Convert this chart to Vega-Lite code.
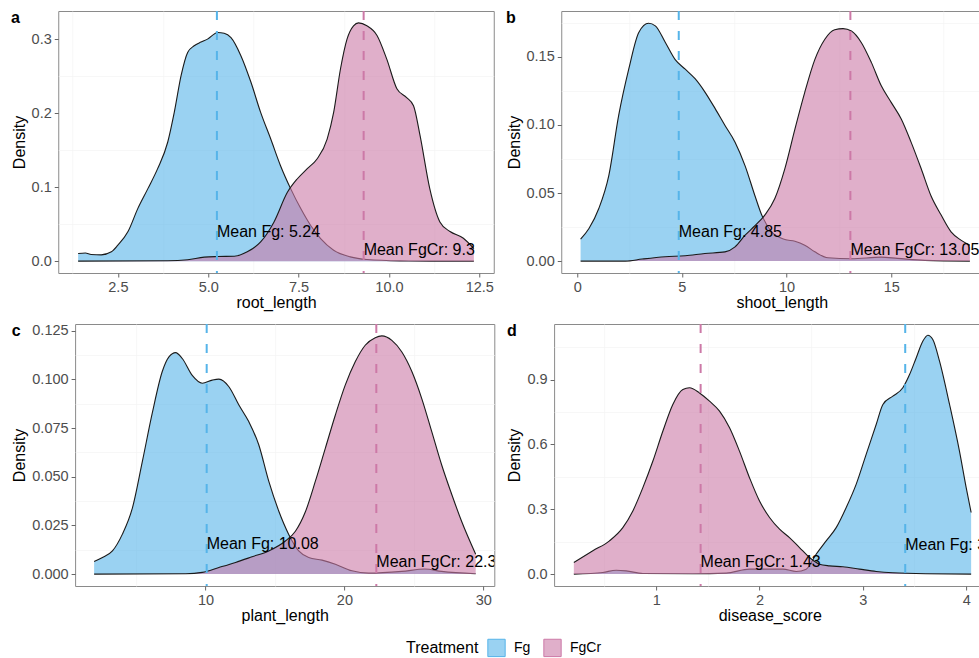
{
  "$schema": "https://vega.github.io/schema/vega-lite/v6.json",
  "background": "white",
  "padding": {"left": 10, "top": 9, "right": 0, "bottom": 0},
  "datasets": {
    "a": [
      {"Treatment": "Fg", "x": 1.40, "density": 0.0103},
      {"Treatment": "Fg", "x": 1.60, "density": 0.0110},
      {"Treatment": "Fg", "x": 1.76, "density": 0.0090},
      {"Treatment": "Fg", "x": 2.04, "density": 0.0085},
      {"Treatment": "Fg", "x": 2.32, "density": 0.0126},
      {"Treatment": "Fg", "x": 2.50, "density": 0.0216},
      {"Treatment": "Fg", "x": 2.78, "density": 0.040},
      {"Treatment": "Fg", "x": 3.05, "density": 0.071},
      {"Treatment": "Fg", "x": 3.33, "density": 0.098},
      {"Treatment": "Fg", "x": 3.60, "density": 0.125},
      {"Treatment": "Fg", "x": 3.88, "density": 0.161},
      {"Treatment": "Fg", "x": 4.06, "density": 0.201},
      {"Treatment": "Fg", "x": 4.25, "density": 0.251},
      {"Treatment": "Fg", "x": 4.43, "density": 0.282},
      {"Treatment": "Fg", "x": 4.61, "density": 0.291},
      {"Treatment": "Fg", "x": 4.80, "density": 0.296},
      {"Treatment": "Fg", "x": 4.98, "density": 0.300},
      {"Treatment": "Fg", "x": 5.26, "density": 0.309},
      {"Treatment": "Fg", "x": 5.44, "density": 0.308},
      {"Treatment": "Fg", "x": 5.63, "density": 0.302},
      {"Treatment": "Fg", "x": 5.90, "density": 0.278},
      {"Treatment": "Fg", "x": 6.18, "density": 0.242},
      {"Treatment": "Fg", "x": 6.45, "density": 0.201},
      {"Treatment": "Fg", "x": 6.73, "density": 0.165},
      {"Treatment": "Fg", "x": 7.00, "density": 0.129},
      {"Treatment": "Fg", "x": 7.28, "density": 0.098},
      {"Treatment": "Fg", "x": 7.56, "density": 0.071},
      {"Treatment": "Fg", "x": 7.83, "density": 0.0485},
      {"Treatment": "Fg", "x": 8.11, "density": 0.0305},
      {"Treatment": "Fg", "x": 8.47, "density": 0.0148},
      {"Treatment": "Fg", "x": 8.93, "density": 0.0058},
      {"Treatment": "Fg", "x": 9.39, "density": 0.0022},
      {"Treatment": "Fg", "x": 10.31, "density": 0.0004},
      {"Treatment": "Fg", "x": 11.20, "density": 0.0001},
      {"Treatment": "Fg", "x": 12.35, "density": 0.0},
      {"Treatment": "FgCr", "x": 1.40, "density": 0.0},
      {"Treatment": "FgCr", "x": 3.88, "density": 0.0005},
      {"Treatment": "FgCr", "x": 4.43, "density": 0.002},
      {"Treatment": "FgCr", "x": 4.89, "density": 0.0054},
      {"Treatment": "FgCr", "x": 5.26, "density": 0.0063},
      {"Treatment": "FgCr", "x": 5.72, "density": 0.0067},
      {"Treatment": "FgCr", "x": 6.08, "density": 0.0126},
      {"Treatment": "FgCr", "x": 6.45, "density": 0.026},
      {"Treatment": "FgCr", "x": 6.82, "density": 0.053},
      {"Treatment": "FgCr", "x": 7.19, "density": 0.093},
      {"Treatment": "FgCr", "x": 7.46, "density": 0.111},
      {"Treatment": "FgCr", "x": 7.74, "density": 0.125},
      {"Treatment": "FgCr", "x": 8.01, "density": 0.138},
      {"Treatment": "FgCr", "x": 8.29, "density": 0.165},
      {"Treatment": "FgCr", "x": 8.47, "density": 0.201},
      {"Treatment": "FgCr", "x": 8.66, "density": 0.260},
      {"Treatment": "FgCr", "x": 8.84, "density": 0.300},
      {"Treatment": "FgCr", "x": 9.02, "density": 0.318},
      {"Treatment": "FgCr", "x": 9.16, "density": 0.322},
      {"Treatment": "FgCr", "x": 9.39, "density": 0.318},
      {"Treatment": "FgCr", "x": 9.67, "density": 0.305},
      {"Treatment": "FgCr", "x": 9.94, "density": 0.273},
      {"Treatment": "FgCr", "x": 10.22, "density": 0.233},
      {"Treatment": "FgCr", "x": 10.49, "density": 0.221},
      {"Treatment": "FgCr", "x": 10.68, "density": 0.210},
      {"Treatment": "FgCr", "x": 10.86, "density": 0.170},
      {"Treatment": "FgCr", "x": 11.13, "density": 0.098},
      {"Treatment": "FgCr", "x": 11.41, "density": 0.053},
      {"Treatment": "FgCr", "x": 11.69, "density": 0.040},
      {"Treatment": "FgCr", "x": 12.06, "density": 0.031},
      {"Treatment": "FgCr", "x": 12.35, "density": 0.017}
    ],
    "b": [
      {"Treatment": "Fg", "x": 0.16, "density": 0.0161},
      {"Treatment": "Fg", "x": 0.56, "density": 0.0239},
      {"Treatment": "Fg", "x": 1.03, "density": 0.0386},
      {"Treatment": "Fg", "x": 1.51, "density": 0.063},
      {"Treatment": "Fg", "x": 1.98, "density": 0.107},
      {"Treatment": "Fg", "x": 2.46, "density": 0.141},
      {"Treatment": "Fg", "x": 2.94, "density": 0.168},
      {"Treatment": "Fg", "x": 3.41, "density": 0.1747},
      {"Treatment": "Fg", "x": 3.73, "density": 0.1728},
      {"Treatment": "Fg", "x": 4.21, "density": 0.1606},
      {"Treatment": "Fg", "x": 4.68, "density": 0.148},
      {"Treatment": "Fg", "x": 5.16, "density": 0.141},
      {"Treatment": "Fg", "x": 5.63, "density": 0.134},
      {"Treatment": "Fg", "x": 6.11, "density": 0.124},
      {"Treatment": "Fg", "x": 6.59, "density": 0.112},
      {"Treatment": "Fg", "x": 7.06, "density": 0.0996},
      {"Treatment": "Fg", "x": 7.54, "density": 0.0874},
      {"Treatment": "Fg", "x": 8.02, "density": 0.070},
      {"Treatment": "Fg", "x": 8.49, "density": 0.048},
      {"Treatment": "Fg", "x": 8.81, "density": 0.034},
      {"Treatment": "Fg", "x": 9.29, "density": 0.0215},
      {"Treatment": "Fg", "x": 9.92, "density": 0.0159},
      {"Treatment": "Fg", "x": 10.40, "density": 0.0146},
      {"Treatment": "Fg", "x": 10.87, "density": 0.0117},
      {"Treatment": "Fg", "x": 11.35, "density": 0.0068},
      {"Treatment": "Fg", "x": 11.98, "density": 0.0024},
      {"Treatment": "Fg", "x": 13.10, "density": 0.0017},
      {"Treatment": "Fg", "x": 14.52, "density": 0.0029},
      {"Treatment": "Fg", "x": 15.30, "density": 0.0020},
      {"Treatment": "Fg", "x": 16.60, "density": 0.0005},
      {"Treatment": "Fg", "x": 18.76, "density": 0.0},
      {"Treatment": "FgCr", "x": 0.16, "density": 0.0},
      {"Treatment": "FgCr", "x": 2.30, "density": 0.0},
      {"Treatment": "FgCr", "x": 3.10, "density": 0.0015},
      {"Treatment": "FgCr", "x": 4.20, "density": 0.0032},
      {"Treatment": "FgCr", "x": 5.16, "density": 0.0039},
      {"Treatment": "FgCr", "x": 6.10, "density": 0.0056},
      {"Treatment": "FgCr", "x": 7.06, "density": 0.0068},
      {"Treatment": "FgCr", "x": 7.54, "density": 0.0105},
      {"Treatment": "FgCr", "x": 8.02, "density": 0.019},
      {"Treatment": "FgCr", "x": 8.49, "density": 0.026},
      {"Treatment": "FgCr", "x": 8.97, "density": 0.034},
      {"Treatment": "FgCr", "x": 9.44, "density": 0.046},
      {"Treatment": "FgCr", "x": 9.92, "density": 0.068},
      {"Treatment": "FgCr", "x": 10.40, "density": 0.097},
      {"Treatment": "FgCr", "x": 10.87, "density": 0.124},
      {"Treatment": "FgCr", "x": 11.35, "density": 0.148},
      {"Treatment": "FgCr", "x": 11.83, "density": 0.163},
      {"Treatment": "FgCr", "x": 12.30, "density": 0.170},
      {"Treatment": "FgCr", "x": 12.70, "density": 0.1708},
      {"Treatment": "FgCr", "x": 13.10, "density": 0.169},
      {"Treatment": "FgCr", "x": 13.57, "density": 0.1606},
      {"Treatment": "FgCr", "x": 14.05, "density": 0.146},
      {"Treatment": "FgCr", "x": 14.52, "density": 0.129},
      {"Treatment": "FgCr", "x": 15.00, "density": 0.1166},
      {"Treatment": "FgCr", "x": 15.48, "density": 0.1044},
      {"Treatment": "FgCr", "x": 15.95, "density": 0.0874},
      {"Treatment": "FgCr", "x": 16.43, "density": 0.068},
      {"Treatment": "FgCr", "x": 16.90, "density": 0.048},
      {"Treatment": "FgCr", "x": 17.38, "density": 0.034},
      {"Treatment": "FgCr", "x": 17.86, "density": 0.0215},
      {"Treatment": "FgCr", "x": 18.33, "density": 0.0154},
      {"Treatment": "FgCr", "x": 18.76, "density": 0.0117}
    ],
    "c": [
      {"Treatment": "Fg", "x": 1.97, "density": 0.0065},
      {"Treatment": "Fg", "x": 2.57, "density": 0.0085},
      {"Treatment": "Fg", "x": 3.29, "density": 0.0119},
      {"Treatment": "Fg", "x": 4.00, "density": 0.0204},
      {"Treatment": "Fg", "x": 4.73, "density": 0.034},
      {"Treatment": "Fg", "x": 5.45, "density": 0.058},
      {"Treatment": "Fg", "x": 6.17, "density": 0.083},
      {"Treatment": "Fg", "x": 6.88, "density": 0.104},
      {"Treatment": "Fg", "x": 7.36, "density": 0.1115},
      {"Treatment": "Fg", "x": 7.84, "density": 0.1137},
      {"Treatment": "Fg", "x": 8.32, "density": 0.1107},
      {"Treatment": "Fg", "x": 9.04, "density": 0.102},
      {"Treatment": "Fg", "x": 9.76, "density": 0.098},
      {"Treatment": "Fg", "x": 10.48, "density": 0.0996},
      {"Treatment": "Fg", "x": 10.96, "density": 0.1001},
      {"Treatment": "Fg", "x": 11.68, "density": 0.0962},
      {"Treatment": "Fg", "x": 12.40, "density": 0.0868},
      {"Treatment": "Fg", "x": 13.11, "density": 0.0783},
      {"Treatment": "Fg", "x": 13.83, "density": 0.0664},
      {"Treatment": "Fg", "x": 14.55, "density": 0.0477},
      {"Treatment": "Fg", "x": 15.27, "density": 0.0324},
      {"Treatment": "Fg", "x": 15.99, "density": 0.0204},
      {"Treatment": "Fg", "x": 16.71, "density": 0.0119},
      {"Treatment": "Fg", "x": 17.43, "density": 0.0085},
      {"Treatment": "Fg", "x": 18.39, "density": 0.0072},
      {"Treatment": "Fg", "x": 19.35, "density": 0.0051},
      {"Treatment": "Fg", "x": 20.54, "density": 0.0017},
      {"Treatment": "Fg", "x": 21.74, "density": 0.0005},
      {"Treatment": "Fg", "x": 24.14, "density": 0.0014},
      {"Treatment": "Fg", "x": 25.80, "density": 0.0026},
      {"Treatment": "Fg", "x": 27.00, "density": 0.0014},
      {"Treatment": "Fg", "x": 29.46, "density": 0.0002},
      {"Treatment": "FgCr", "x": 1.97, "density": 0.0},
      {"Treatment": "FgCr", "x": 8.56, "density": 0.0002},
      {"Treatment": "FgCr", "x": 9.76, "density": 0.0009},
      {"Treatment": "FgCr", "x": 10.96, "density": 0.0034},
      {"Treatment": "FgCr", "x": 12.16, "density": 0.006},
      {"Treatment": "FgCr", "x": 13.35, "density": 0.0089},
      {"Treatment": "FgCr", "x": 14.55, "density": 0.0119},
      {"Treatment": "FgCr", "x": 15.75, "density": 0.017},
      {"Treatment": "FgCr", "x": 16.47, "density": 0.022},
      {"Treatment": "FgCr", "x": 17.19, "density": 0.032},
      {"Treatment": "FgCr", "x": 17.91, "density": 0.0477},
      {"Treatment": "FgCr", "x": 18.63, "density": 0.0647},
      {"Treatment": "FgCr", "x": 19.35, "density": 0.0817},
      {"Treatment": "FgCr", "x": 20.06, "density": 0.097},
      {"Treatment": "FgCr", "x": 20.78, "density": 0.109},
      {"Treatment": "FgCr", "x": 21.50, "density": 0.1175},
      {"Treatment": "FgCr", "x": 22.22, "density": 0.1214},
      {"Treatment": "FgCr", "x": 22.70, "density": 0.1223},
      {"Treatment": "FgCr", "x": 23.42, "density": 0.120},
      {"Treatment": "FgCr", "x": 24.14, "density": 0.114},
      {"Treatment": "FgCr", "x": 24.86, "density": 0.104},
      {"Treatment": "FgCr", "x": 25.58, "density": 0.090},
      {"Treatment": "FgCr", "x": 26.30, "density": 0.073},
      {"Treatment": "FgCr", "x": 27.01, "density": 0.056},
      {"Treatment": "FgCr", "x": 27.73, "density": 0.041},
      {"Treatment": "FgCr", "x": 28.45, "density": 0.027},
      {"Treatment": "FgCr", "x": 29.46, "density": 0.0102}
    ],
    "d": [
      {"Treatment": "Fg", "x": 0.203, "density": 0.0},
      {"Treatment": "Fg", "x": 0.484, "density": 0.0077},
      {"Treatment": "Fg", "x": 0.613, "density": 0.018},
      {"Treatment": "Fg", "x": 0.710, "density": 0.015},
      {"Treatment": "Fg", "x": 0.871, "density": 0.003},
      {"Treatment": "Fg", "x": 1.355, "density": 0.0015},
      {"Treatment": "Fg", "x": 1.677, "density": 0.0046},
      {"Treatment": "Fg", "x": 1.903, "density": 0.023},
      {"Treatment": "Fg", "x": 2.065, "density": 0.023},
      {"Treatment": "Fg", "x": 2.226, "density": 0.023},
      {"Treatment": "Fg", "x": 2.355, "density": 0.0123},
      {"Treatment": "Fg", "x": 2.452, "density": 0.023},
      {"Treatment": "Fg", "x": 2.548, "density": 0.092},
      {"Treatment": "Fg", "x": 2.645, "density": 0.154},
      {"Treatment": "Fg", "x": 2.742, "density": 0.215},
      {"Treatment": "Fg", "x": 2.839, "density": 0.308},
      {"Treatment": "Fg", "x": 2.935, "density": 0.415},
      {"Treatment": "Fg", "x": 3.032, "density": 0.554},
      {"Treatment": "Fg", "x": 3.129, "density": 0.692},
      {"Treatment": "Fg", "x": 3.194, "density": 0.785},
      {"Treatment": "Fg", "x": 3.290, "density": 0.823},
      {"Treatment": "Fg", "x": 3.387, "density": 0.862},
      {"Treatment": "Fg", "x": 3.452, "density": 0.923},
      {"Treatment": "Fg", "x": 3.516, "density": 1.0},
      {"Treatment": "Fg", "x": 3.580, "density": 1.077},
      {"Treatment": "Fg", "x": 3.629, "density": 1.105},
      {"Treatment": "Fg", "x": 3.677, "density": 1.085},
      {"Treatment": "Fg", "x": 3.742, "density": 0.985},
      {"Treatment": "Fg", "x": 3.839, "density": 0.785},
      {"Treatment": "Fg", "x": 3.935, "density": 0.569},
      {"Treatment": "Fg", "x": 4.000, "density": 0.400},
      {"Treatment": "Fg", "x": 4.048, "density": 0.285},
      {"Treatment": "FgCr", "x": 0.203, "density": 0.054},
      {"Treatment": "FgCr", "x": 0.387, "density": 0.108},
      {"Treatment": "FgCr", "x": 0.548, "density": 0.154},
      {"Treatment": "FgCr", "x": 0.677, "density": 0.215},
      {"Treatment": "FgCr", "x": 0.774, "density": 0.292},
      {"Treatment": "FgCr", "x": 0.871, "density": 0.400},
      {"Treatment": "FgCr", "x": 0.968, "density": 0.523},
      {"Treatment": "FgCr", "x": 1.065, "density": 0.662},
      {"Treatment": "FgCr", "x": 1.161, "density": 0.785},
      {"Treatment": "FgCr", "x": 1.258, "density": 0.854},
      {"Treatment": "FgCr", "x": 1.323, "density": 0.862},
      {"Treatment": "FgCr", "x": 1.419, "density": 0.838},
      {"Treatment": "FgCr", "x": 1.516, "density": 0.800},
      {"Treatment": "FgCr", "x": 1.613, "density": 0.754},
      {"Treatment": "FgCr", "x": 1.710, "density": 0.677},
      {"Treatment": "FgCr", "x": 1.806, "density": 0.569},
      {"Treatment": "FgCr", "x": 1.903, "density": 0.446},
      {"Treatment": "FgCr", "x": 2.000, "density": 0.338},
      {"Treatment": "FgCr", "x": 2.097, "density": 0.262},
      {"Treatment": "FgCr", "x": 2.194, "density": 0.208},
      {"Treatment": "FgCr", "x": 2.290, "density": 0.169},
      {"Treatment": "FgCr", "x": 2.387, "density": 0.123},
      {"Treatment": "FgCr", "x": 2.484, "density": 0.077},
      {"Treatment": "FgCr", "x": 2.580, "density": 0.046},
      {"Treatment": "FgCr", "x": 2.677, "density": 0.038},
      {"Treatment": "FgCr", "x": 2.806, "density": 0.034},
      {"Treatment": "FgCr", "x": 2.968, "density": 0.023},
      {"Treatment": "FgCr", "x": 3.129, "density": 0.0123},
      {"Treatment": "FgCr", "x": 3.290, "density": 0.006},
      {"Treatment": "FgCr", "x": 3.610, "density": 0.0015},
      {"Treatment": "FgCr", "x": 4.048, "density": 0.0}
    ],
    "means": [
      {"panel": "a", "Treatment": "Fg", "mean": 5.24, "label_y": 0.040, "label": "Mean Fg: 5.24"},
      {"panel": "a", "Treatment": "FgCr", "mean": 9.3, "label_y": 0.015, "label": "Mean FgCr: 9.3"},
      {"panel": "b", "Treatment": "Fg", "mean": 4.85, "label_y": 0.0215, "label": "Mean Fg: 4.85"},
      {"panel": "b", "Treatment": "FgCr", "mean": 13.05, "label_y": 0.008, "label": "Mean FgCr: 13.05"},
      {"panel": "c", "Treatment": "Fg", "mean": 10.08, "label_y": 0.0153, "label": "Mean Fg: 10.08"},
      {"panel": "c", "Treatment": "FgCr", "mean": 22.3, "label_y": 0.006, "label": "Mean FgCr: 22.3"},
      {"panel": "d", "Treatment": "Fg", "mean": 3.41, "label_y": 0.135, "label": "Mean Fg: 3.41"},
      {"panel": "d", "Treatment": "FgCr", "mean": 1.43, "label_y": 0.054, "label": "Mean FgCr: 1.43"}
    ]
  },
  "center": true,
  "spacing": 11,
  "vconcat": [
    {
      "spacing": 11,
      "hconcat": [
        {
          "title": {"text": "a"},
          "width": 435.5,
          "height": 262,
          "resolve": {"axis": {"x": "independent", "y": "independent"}},
          "layer": [
            {
              "data": {"name": "a"},
              "transform": [{"filter": "datum.Treatment === 'Fg'"}],
              "mark": {"type": "area", "interpolate": "monotone", "fillOpacity": 0.6},
              "encoding": {
                "x": {"field": "x", "type": "quantitative", "scale": {"domain": [0.85, 12.9], "nice": false, "zero": false},
                  "axis": {"orient": "top", "values": [1.25, 3.75, 6.25, 8.75, 11.25], "grid": true, "gridColor": "#F3F3F3", "gridWidth": 0.7, "labels": false, "ticks": false, "domain": false, "title": null}},
                "y": {"field": "density", "type": "quantitative", "stack": null, "scale": {"domain": [-0.016, 0.338], "nice": false, "zero": false},
                  "axis": {"orient": "right", "values": [0.05, 0.15, 0.25], "grid": true, "gridColor": "#F3F3F3", "gridWidth": 0.7, "labels": false, "ticks": false, "domain": false, "title": null}},
                "fill": {"field": "Treatment", "type": "nominal", "scale": {"domain": ["Fg", "FgCr"], "range": ["#56B4E9", "#CC79A7"]},
                  "legend": {
                    "orient": "none", "legendX": 348, "legendY": 627, "direction": "horizontal",
                    "title": "Treatment", "titleOrient": "left", "titleFontSize": 16, "titleFontWeight": "normal", "titleColor": "#000000", "titlePadding": 8,
                    "labelFontSize": 14, "labelColor": "#000000", "labelOffset": 8, "columnPadding": 10,
                    "symbolType": "square", "symbolSize": 300, "symbolStrokeColor": "#1a1a1a", "symbolStrokeWidth": 1, "symbolOpacity": 1, "padding": 0,
                    "encode": {"symbols": {"update": {"fillOpacity": {"value": 0.6}, "strokeOpacity": {"value": 1}, "stroke": {"value": "#1a1a1a"}}}}
                  }}
              }
            },
            {
              "data": {"name": "a"},
              "transform": [{"filter": "datum.Treatment === 'Fg'"}],
              "mark": {"type": "line", "interpolate": "monotone", "color": "#1a1a1a", "strokeWidth": 1.1},
              "encoding": {
                "x": {"field": "x", "type": "quantitative", "axis": {"orient": "bottom", "values": [2.5, 5, 7.5, 10, 12.5], "format": ".1f", "title": "root_length"}},
                "y": {"field": "density", "type": "quantitative", "axis": {"orient": "left", "values": [0, 0.1, 0.2, 0.3], "format": ".1f", "title": "Density"}}
              }
            },
            {
              "data": {"name": "a"},
              "transform": [{"filter": "datum.Treatment === 'FgCr'"}],
              "mark": {"type": "area", "interpolate": "monotone", "fillOpacity": 0.6},
              "encoding": {
                "x": {"field": "x", "type": "quantitative", "axis": null},
                "y": {"field": "density", "type": "quantitative", "stack": null, "axis": null},
                "fill": {"field": "Treatment", "type": "nominal"}
              }
            },
            {
              "data": {"name": "a"},
              "transform": [{"filter": "datum.Treatment === 'FgCr'"}],
              "mark": {"type": "line", "interpolate": "monotone", "color": "#1a1a1a", "strokeWidth": 1.1},
              "encoding": {
                "x": {"field": "x", "type": "quantitative", "axis": null},
                "y": {"field": "density", "type": "quantitative", "axis": null}
              }
            },
            {
              "data": {"name": "means"},
              "transform": [{"filter": "datum.panel === 'a'"}],
              "mark": {"type": "rule", "strokeDash": [9, 11], "strokeWidth": 2},
              "encoding": {
                "x": {"field": "mean", "type": "quantitative", "axis": null},
                "stroke": {"field": "Treatment", "type": "nominal", "scale": {"domain": ["Fg", "FgCr"], "range": ["#56B4E9", "#CC79A7"]}, "legend": null}
              }
            },
            {
              "data": {"name": "means"},
              "transform": [{"filter": "datum.panel === 'a'"}],
              "mark": {"type": "text", "align": "left", "baseline": "middle", "fontSize": 16, "color": "#000000", "clip": true},
              "encoding": {
                "x": {"field": "mean", "type": "quantitative", "axis": null},
                "y": {"field": "label_y", "type": "quantitative", "axis": null},
                "text": {"field": "label"}
              }
            }
          ]
        },
        {
          "title": {"text": "b"},
          "width": 441,
          "height": 262,
          "resolve": {"axis": {"x": "independent", "y": "independent"}},
          "layer": [
            {
              "data": {"name": "b"},
              "transform": [{"filter": "datum.Treatment === 'Fg'"}],
              "mark": {"type": "area", "interpolate": "monotone", "fillOpacity": 0.6},
              "encoding": {
                "x": {"field": "x", "type": "quantitative", "scale": {"domain": [-0.764, 20.306], "nice": false, "zero": false},
                  "axis": {"orient": "top", "values": [2.5, 7.5, 12.5, 17.5], "grid": true, "gridColor": "#F3F3F3", "gridWidth": 0.7, "labels": false, "ticks": false, "domain": false, "title": null}},
                "y": {"field": "density", "type": "quantitative", "stack": null, "scale": {"domain": [-0.00875, 0.18375], "nice": false, "zero": false},
                  "axis": {"orient": "right", "values": [0.025, 0.075, 0.125, 0.175], "grid": true, "gridColor": "#F3F3F3", "gridWidth": 0.7, "labels": false, "ticks": false, "domain": false, "title": null}},
                "fill": {"field": "Treatment", "type": "nominal"}
              }
            },
            {
              "data": {"name": "b"},
              "transform": [{"filter": "datum.Treatment === 'Fg'"}],
              "mark": {"type": "line", "interpolate": "monotone", "color": "#1a1a1a", "strokeWidth": 1.1},
              "encoding": {
                "x": {"field": "x", "type": "quantitative", "axis": {"orient": "bottom", "values": [0, 5, 10, 15], "format": "d", "title": "shoot_length"}},
                "y": {"field": "density", "type": "quantitative", "axis": {"orient": "left", "values": [0, 0.05, 0.1, 0.15], "format": ".2f", "title": "Density"}}
              }
            },
            {
              "data": {"name": "b"},
              "transform": [{"filter": "datum.Treatment === 'FgCr'"}],
              "mark": {"type": "area", "interpolate": "monotone", "fillOpacity": 0.6},
              "encoding": {
                "x": {"field": "x", "type": "quantitative", "axis": null},
                "y": {"field": "density", "type": "quantitative", "stack": null, "axis": null},
                "fill": {"field": "Treatment", "type": "nominal"}
              }
            },
            {
              "data": {"name": "b"},
              "transform": [{"filter": "datum.Treatment === 'FgCr'"}],
              "mark": {"type": "line", "interpolate": "monotone", "color": "#1a1a1a", "strokeWidth": 1.1},
              "encoding": {
                "x": {"field": "x", "type": "quantitative", "axis": null},
                "y": {"field": "density", "type": "quantitative", "axis": null}
              }
            },
            {
              "data": {"name": "means"},
              "transform": [{"filter": "datum.panel === 'b'"}],
              "mark": {"type": "rule", "strokeDash": [9, 11], "strokeWidth": 2},
              "encoding": {
                "x": {"field": "mean", "type": "quantitative", "axis": null},
                "stroke": {"field": "Treatment", "type": "nominal", "legend": null}
              }
            },
            {
              "data": {"name": "means"},
              "transform": [{"filter": "datum.panel === 'b'"}],
              "mark": {"type": "text", "align": "left", "baseline": "middle", "fontSize": 16, "color": "#000000", "clip": true},
              "encoding": {
                "x": {"field": "mean", "type": "quantitative", "axis": null},
                "y": {"field": "label_y", "type": "quantitative", "axis": null},
                "text": {"field": "label"}
              }
            }
          ]
        }
      ]
    },
    {
      "spacing": 11,
      "hconcat": [
        {
          "title": {"text": "c"},
          "width": 419.2,
          "height": 262,
          "resolve": {"axis": {"x": "independent", "y": "independent"}},
          "layer": [
            {
              "data": {"name": "c"},
              "transform": [{"filter": "datum.Treatment === 'Fg'"}],
              "mark": {"type": "area", "interpolate": "monotone", "fillOpacity": 0.6},
              "encoding": {
                "x": {"field": "x", "type": "quantitative", "scale": {"domain": [0.6, 30.8], "nice": false, "zero": false},
                  "axis": {"orient": "top", "values": [5, 15, 25], "grid": true, "gridColor": "#F3F3F3", "gridWidth": 0.7, "labels": false, "ticks": false, "domain": false, "title": null}},
                "y": {"field": "density", "type": "quantitative", "stack": null, "scale": {"domain": [-0.0061, 0.1284], "nice": false, "zero": false},
                  "axis": {"orient": "right", "values": [0.0125, 0.0375, 0.0625, 0.0875, 0.1125], "grid": true, "gridColor": "#F3F3F3", "gridWidth": 0.7, "labels": false, "ticks": false, "domain": false, "title": null}},
                "fill": {"field": "Treatment", "type": "nominal"}
              }
            },
            {
              "data": {"name": "c"},
              "transform": [{"filter": "datum.Treatment === 'Fg'"}],
              "mark": {"type": "line", "interpolate": "monotone", "color": "#1a1a1a", "strokeWidth": 1.1},
              "encoding": {
                "x": {"field": "x", "type": "quantitative", "axis": {"orient": "bottom", "values": [10, 20, 30], "format": "d", "title": "plant_length"}},
                "y": {"field": "density", "type": "quantitative", "axis": {"orient": "left", "values": [0, 0.025, 0.05, 0.075, 0.1, 0.125], "format": ".3f", "title": "Density"}}
              }
            },
            {
              "data": {"name": "c"},
              "transform": [{"filter": "datum.Treatment === 'FgCr'"}],
              "mark": {"type": "area", "interpolate": "monotone", "fillOpacity": 0.6},
              "encoding": {
                "x": {"field": "x", "type": "quantitative", "axis": null},
                "y": {"field": "density", "type": "quantitative", "stack": null, "axis": null},
                "fill": {"field": "Treatment", "type": "nominal"}
              }
            },
            {
              "data": {"name": "c"},
              "transform": [{"filter": "datum.Treatment === 'FgCr'"}],
              "mark": {"type": "line", "interpolate": "monotone", "color": "#1a1a1a", "strokeWidth": 1.1},
              "encoding": {
                "x": {"field": "x", "type": "quantitative", "axis": null},
                "y": {"field": "density", "type": "quantitative", "axis": null}
              }
            },
            {
              "data": {"name": "means"},
              "transform": [{"filter": "datum.panel === 'c'"}],
              "mark": {"type": "rule", "strokeDash": [9, 11], "strokeWidth": 2},
              "encoding": {
                "x": {"field": "mean", "type": "quantitative", "axis": null},
                "stroke": {"field": "Treatment", "type": "nominal", "legend": null}
              }
            },
            {
              "data": {"name": "means"},
              "transform": [{"filter": "datum.panel === 'c'"}],
              "mark": {"type": "text", "align": "left", "baseline": "middle", "fontSize": 16, "color": "#000000", "clip": true},
              "encoding": {
                "x": {"field": "mean", "type": "quantitative", "axis": null},
                "y": {"field": "label_y", "type": "quantitative", "axis": null},
                "text": {"field": "label"}
              }
            }
          ]
        },
        {
          "title": {"text": "d"},
          "width": 431.3,
          "height": 262,
          "resolve": {"axis": {"x": "independent", "y": "independent"}},
          "layer": [
            {
              "data": {"name": "d"},
              "transform": [{"filter": "datum.Treatment === 'Fg'"}],
              "mark": {"type": "area", "interpolate": "monotone", "fillOpacity": 0.6},
              "encoding": {
                "x": {"field": "x", "type": "quantitative", "scale": {"domain": [0.012, 4.186], "nice": false, "zero": false},
                  "axis": {"orient": "top", "values": [0.5, 1.5, 2.5, 3.5], "grid": true, "gridColor": "#F3F3F3", "gridWidth": 0.7, "labels": false, "ticks": false, "domain": false, "title": null}},
                "y": {"field": "density", "type": "quantitative", "stack": null, "scale": {"domain": [-0.055, 1.157], "nice": false, "zero": false},
                  "axis": {"orient": "right", "values": [0.15, 0.45, 0.75, 1.05], "grid": true, "gridColor": "#F3F3F3", "gridWidth": 0.7, "labels": false, "ticks": false, "domain": false, "title": null}},
                "fill": {"field": "Treatment", "type": "nominal"}
              }
            },
            {
              "data": {"name": "d"},
              "transform": [{"filter": "datum.Treatment === 'Fg'"}],
              "mark": {"type": "line", "interpolate": "monotone", "color": "#1a1a1a", "strokeWidth": 1.1},
              "encoding": {
                "x": {"field": "x", "type": "quantitative", "axis": {"orient": "bottom", "values": [1, 2, 3, 4], "format": "d", "title": "disease_score"}},
                "y": {"field": "density", "type": "quantitative", "axis": {"orient": "left", "values": [0, 0.3, 0.6, 0.9], "format": ".1f", "title": "Density"}}
              }
            },
            {
              "data": {"name": "d"},
              "transform": [{"filter": "datum.Treatment === 'FgCr'"}],
              "mark": {"type": "area", "interpolate": "monotone", "fillOpacity": 0.6},
              "encoding": {
                "x": {"field": "x", "type": "quantitative", "axis": null},
                "y": {"field": "density", "type": "quantitative", "stack": null, "axis": null},
                "fill": {"field": "Treatment", "type": "nominal"}
              }
            },
            {
              "data": {"name": "d"},
              "transform": [{"filter": "datum.Treatment === 'FgCr'"}],
              "mark": {"type": "line", "interpolate": "monotone", "color": "#1a1a1a", "strokeWidth": 1.1},
              "encoding": {
                "x": {"field": "x", "type": "quantitative", "axis": null},
                "y": {"field": "density", "type": "quantitative", "axis": null}
              }
            },
            {
              "data": {"name": "means"},
              "transform": [{"filter": "datum.panel === 'd'"}],
              "mark": {"type": "rule", "strokeDash": [9, 11], "strokeWidth": 2},
              "encoding": {
                "x": {"field": "mean", "type": "quantitative", "axis": null},
                "stroke": {"field": "Treatment", "type": "nominal", "legend": null}
              }
            },
            {
              "data": {"name": "means"},
              "transform": [{"filter": "datum.panel === 'd'"}],
              "mark": {"type": "text", "align": "left", "baseline": "middle", "fontSize": 16, "color": "#000000", "clip": true},
              "encoding": {
                "x": {"field": "mean", "type": "quantitative", "axis": null},
                "y": {"field": "label_y", "type": "quantitative", "axis": null},
                "text": {"field": "label"}
              }
            }
          ]
        }
      ]
    }
  ],
  "config": {
    "font": "Liberation Sans",
    "view": {"stroke": "#8a8a8a", "strokeWidth": 1},
    "concat": {"spacing": 11},
    "axis": {
      "domain": false, "grid": true, "gridColor": "#EBEBEB", "gridWidth": 1,
      "tickColor": "#666666", "tickSize": 4, "labelPadding": 3,
      "labelFontSize": 14.5, "labelColor": "#4D4D4D", "labelFlush": false, "labelOverlap": false,
      "titleFontSize": 16, "titleFontWeight": "normal", "titleColor": "#000000"
    },
    "axisX": {"titlePadding": 1},
    "axisY": {"titlePadding": 4},
    "title": {"anchor": "start", "frame": "bounds", "fontSize": 16, "fontWeight": "bold", "color": "#000000", "offset": -16}
  }
}
